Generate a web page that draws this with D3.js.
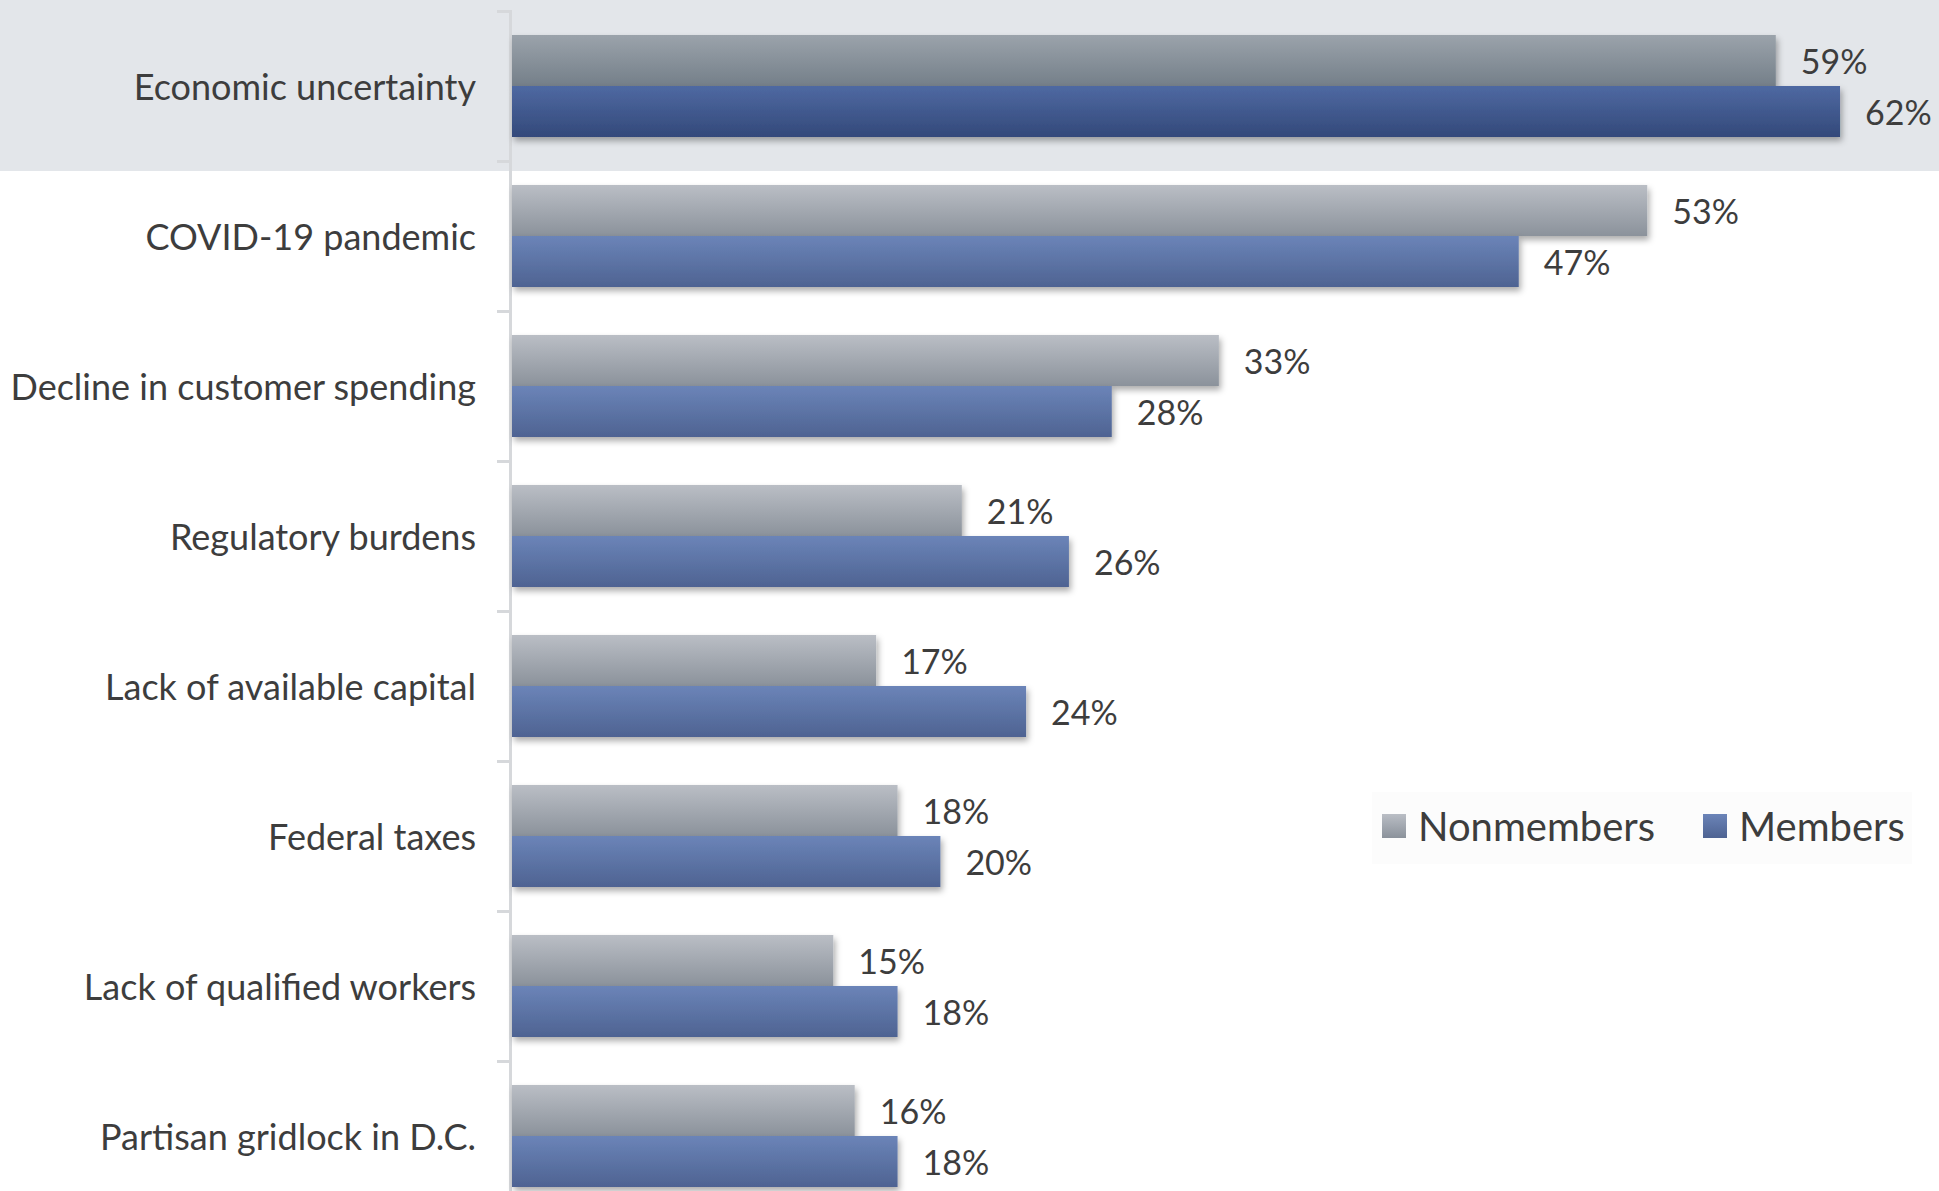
<!DOCTYPE html>
<html>
<head>
<meta charset="utf-8">
<script src="https://cdn.jsdelivr.net/npm/d3@7"></script>
<style>
  html, body { margin: 0; padding: 0; background: #ffffff; }
  svg { display: block; }
  text { font-family: Lato, "Noto Sans", sans-serif; fill: #3d3d3d; }
</style>
</head>
<body>
<script>
const categories = [
  "Economic uncertainty",
  "COVID-19 pandemic",
  "Decline in customer spending",
  "Regulatory burdens",
  "Lack of available capital",
  "Federal taxes",
  "Lack of qualified workers",
  "Partisan gridlock in D.C."
];
const seriesNames = ["Nonmembers", "Members"];
const nonmembers = [59, 53, 33, 21, 17, 18, 15, 16];
const members = [62, 47, 28, 26, 24, 20, 18, 18];
const highlighted = "Economic uncertainty";

const W = 1939, H = 1191;
const svg = d3.select("body").append("svg").attr("width", W).attr("height", H);
const defs = svg.append("defs");

function grad(id, top, bottom) {
  const g = defs.append("linearGradient").attr("id", id)
    .attr("x1", 0).attr("y1", 0).attr("x2", 0).attr("y2", 1);
  g.append("stop").attr("offset", "0%").attr("stop-color", top);
  g.append("stop").attr("offset", "100%").attr("stop-color", bottom);
}
grad("gGray", "#babec5", "#8b929b");
grad("gBlue", "#6b84b8", "#4e6392");
grad("gGrayH", "#9ba3ab", "#747f89");
grad("gBlueH", "#4f69a2", "#33497a");

const f = defs.append("filter").attr("id", "shadow")
  .attr("x", "-5%").attr("y", "-30%").attr("width", "110%").attr("height", "170%");
f.append("feDropShadow").attr("dx", 2).attr("dy", 4).attr("stdDeviation", 3)
  .attr("flood-color", "#000").attr("flood-opacity", 0.33);

const x = d3.scaleLinear().domain([0, 70]).range([512, 512 + 70 * 21.42]);
const y = d3.scaleBand().domain(categories).range([11, 1211])
  .paddingInner(0.32).paddingOuter(0.16);
const sub = d3.scaleBand().domain(seriesNames).range([0, y.bandwidth()]);
const step = y.step();

// highlight band for first category
svg.append("rect")
  .attr("x", 0).attr("y", 0).attr("width", W)
  .attr("height", y(highlighted) + y.bandwidth() + 34)
  .attr("fill", "#e3e6ea");

// axis with ticks at band boundaries
const idx = d3.scaleLinear().domain([0, categories.length]).range([11, 11 + step * categories.length]);
const axisG = svg.append("g").attr("transform", "translate(510,0)")
  .call(d3.axisLeft(idx).tickValues(d3.range(0, categories.length + 1)).tickSize(13).tickFormat(""));
axisG.selectAll("path").attr("stroke", "#d6d8db").attr("stroke-width", 3);
axisG.selectAll("line").attr("stroke", "#d6d8db").attr("stroke-width", 3);

// category labels
svg.append("g").selectAll("text").data(categories).join("text")
  .attr("x", 476)
  .attr("y", d => y(d) + y.bandwidth() / 2)
  .attr("text-anchor", "end")
  .attr("dominant-baseline", "central")
  .style("font-size", "36px")
  .text(d => d);

// bars
const rows = categories.map((c, i) => ({ c, vals: [nonmembers[i], members[i]] }));
const rowG = svg.append("g").selectAll("g").data(rows).join("g")
  .attr("transform", d => `translate(0,${y(d.c)})`);

rowG.selectAll("rect").data(d => d.vals.map((v, j) => ({ v, s: seriesNames[j], h: d.c === highlighted })))
  .join("rect")
  .attr("x", x(0))
  .attr("y", d => sub(d.s))
  .attr("width", d => x(d.v) - x(0))
  .attr("height", sub.bandwidth())
  .attr("filter", "url(#shadow)")
  .attr("fill", d => d.s === "Nonmembers"
    ? (d.h ? "url(#gGrayH)" : "url(#gGray)")
    : (d.h ? "url(#gBlueH)" : "url(#gBlue)"));

rowG.selectAll("text").data(d => d.vals.map((v, j) => ({ v, s: seriesNames[j] })))
  .join("text")
  .attr("x", d => x(d.v) + 25)
  .attr("y", d => sub(d.s) + sub.bandwidth() / 2)
  .attr("dominant-baseline", "central")
  .style("font-size", "34px")
  .text(d => d.v + "%");

// legend
const lg = svg.append("g");
lg.append("rect").attr("x", 1372).attr("y", 792).attr("width", 540).attr("height", 72).attr("fill", "#fcfcfc");
const legendItems = [
  { name: "Nonmembers", fill: "url(#gGray)", x: 1382 },
  { name: "Members", fill: "url(#gBlue)", x: 1703 }
];
const li = lg.selectAll("g").data(legendItems).join("g")
  .attr("transform", d => `translate(${d.x},826)`);
li.append("rect").attr("x", 0).attr("y", -12).attr("width", 24).attr("height", 24)
  .attr("fill", d => d.fill);
li.append("text").attr("x", 36).attr("y", 0).attr("dominant-baseline", "central")
  .style("font-size", "40px").text(d => d.name);
</script>
</body>
</html>
